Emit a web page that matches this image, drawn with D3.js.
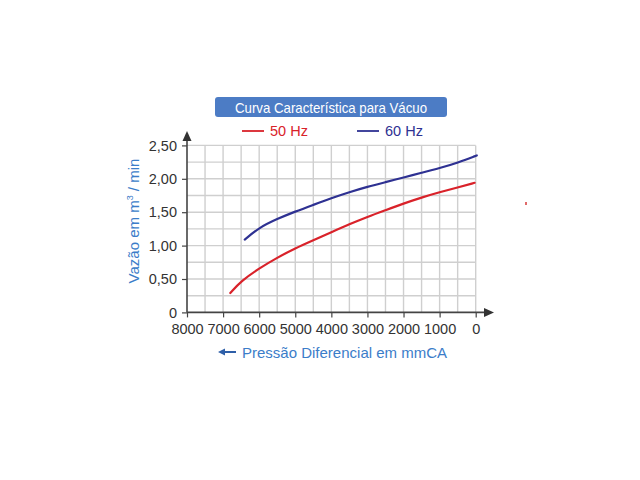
<!DOCTYPE html>
<html>
<head>
<meta charset="utf-8">
<script src="https://cdn.jsdelivr.net/npm/d3@7"></script>
<style>
  body { margin: 0; background: #fff; }
  svg { display: block; font-family: "Liberation Sans", Arial, sans-serif; }
</style>
</head>
<body>
<svg id="chart" width="640" height="480"></svg>
<script>
// Curve data (pressure in mmCA, flow in m3/min)
var pressure50 = [6800, 6500, 6000, 5500, 5000, 4500, 4000, 3500, 3000, 2500, 2000, 1500, 1000, 500, 30];
var flow50 = [0.29, 0.47, 0.66, 0.82, 0.96, 1.08, 1.20, 1.32, 1.43, 1.53, 1.63, 1.72, 1.80, 1.87, 1.94];
var pressure60 = [6400, 6000, 5500, 5000, 4500, 4000, 3500, 3000, 2500, 2000, 1500, 1000, 500, -30];
var flow60 = [1.09, 1.27, 1.40, 1.51, 1.61, 1.71, 1.80, 1.88, 1.95, 2.02, 2.09, 2.16, 2.24, 2.35];

var xTicks = [8000, 7000, 6000, 5000, 4000, 3000, 2000, 1000, 0];
var yTicks = [0, 0.5, 1.0, 1.5, 2.0, 2.5];
var seriesNames = ["50 Hz", "60 Hz"];
var seriesColors = ["#d9222a", "#2e3192"];

var svg = d3.select("#chart");

var x = d3.scaleLinear().domain([8000, 0]).range([187, 475.7]);
var y = d3.scaleLinear().domain([0, 2.5]).range([312.4, 145.4]);

// grid every 500 mmCA and every 0.25 m3/min
var grid = svg.append("g").attr("stroke", "#cfcfcf").attr("stroke-width", 1.4);
d3.range(7500, -1, -500).forEach(function(v) {
  grid.append("line")
    .attr("x1", x(v)).attr("x2", x(v))
    .attr("y1", y(0)).attr("y2", y(2.5));
});
d3.range(0.25, 2.51, 0.25).forEach(function(v) {
  grid.append("line")
    .attr("x1", x(8000)).attr("x2", x(0))
    .attr("y1", y(v)).attr("y2", y(v));
});

// axes
var xAxis = d3.axisBottom(x).tickValues(xTicks).tickSize(5).tickPadding(6)
  .tickFormat(d3.format("d"));
var yAxis = d3.axisLeft(y).tickValues(yTicks).tickSize(5).tickPadding(5)
  .tickFormat(function(d) { return d === 0 ? "0" : d3.format(".2f")(d).replace(".", ","); });

var gx = svg.append("g").attr("transform", "translate(0," + y(0) + ")").call(xAxis);
var gy = svg.append("g").attr("transform", "translate(" + x(8000) + ",0)").call(yAxis);

[gx, gy].forEach(function(g) {
  g.select(".domain").remove();
  g.selectAll(".tick line").attr("stroke", "#444").attr("stroke-width", 1.2);
  g.selectAll(".tick text").attr("fill", "#333").style("font-size", "14.5px");
});

// axis lines with arrow heads
svg.append("line")
  .attr("x1", x(8000)).attr("x2", 486)
  .attr("y1", y(0)).attr("y2", y(0))
  .attr("stroke", "#444").attr("stroke-width", 1.6);
svg.append("path")
  .attr("d", "M" + 494 + "," + y(0) + " L484," + (y(0) - 4.5) + " L484," + (y(0) + 4.5) + "Z")
  .attr("fill", "#333");
svg.append("line")
  .attr("x1", x(8000)).attr("x2", x(8000))
  .attr("y1", y(0)).attr("y2", 139)
  .attr("stroke", "#444").attr("stroke-width", 1.6);
svg.append("path")
  .attr("d", "M" + x(8000) + ",131 L" + (x(8000) - 4.5) + ",141 L" + (x(8000) + 4.5) + ",141Z")
  .attr("fill", "#333");

// curves, smoothed like the drawn characteristic
var line = d3.line()
  .x(function(d) { return x(d[0]); })
  .y(function(d) { return y(d[1]); })
  .curve(d3.curveBasis);

var series = [d3.zip(pressure50, flow50), d3.zip(pressure60, flow60)];
series.forEach(function(pts, i) {
  svg.append("path")
    .datum(pts)
    .attr("d", line)
    .attr("fill", "none")
    .attr("stroke", seriesColors[i])
    .attr("stroke-width", 2.2)
    .attr("stroke-linecap", "round");
});

// title box
svg.append("rect")
  .attr("x", 215).attr("y", 97).attr("width", 232).attr("height", 20)
  .attr("rx", 3).attr("fill", "#4c7cc5");
svg.append("text")
  .attr("x", 331).attr("y", 112.5)
  .attr("text-anchor", "middle")
  .attr("fill", "#fff")
  .attr("textLength", 192)
  .attr("lengthAdjust", "spacingAndGlyphs")
  .style("font-size", "14.5px")
  .text("Curva Característica para Vácuo");

// legend
var legendX = [242, 357];
seriesNames.forEach(function(name, i) {
  svg.append("line")
    .attr("x1", legendX[i]).attr("x2", legendX[i] + 22)
    .attr("y1", 131).attr("y2", 131)
    .attr("stroke", seriesColors[i]).attr("stroke-width", 1.8);
  svg.append("text")
    .attr("x", legendX[i] + 28).attr("y", 136)
    .attr("fill", seriesColors[i])
    .style("font-size", "14.5px")
    .text(name);
});

// axis titles
var yTitle = svg.append("text")
  .attr("transform", "translate(139,221) rotate(-90)")
  .attr("text-anchor", "middle")
  .attr("fill", "#3b7dc9")
  .style("font-size", "15px");
yTitle.append("tspan").text("Vazão em m");
yTitle.append("tspan").attr("dy", -6).style("font-size", "9px").text("3");
yTitle.append("tspan").attr("dy", 6).text(" / min");

svg.append("line")
  .attr("x1", 224).attr("x2", 236)
  .attr("y1", 352).attr("y2", 352)
  .attr("stroke", "#2e5fa8").attr("stroke-width", 2);
svg.append("path")
  .attr("d", "M218,352 L225,348.5 L225,355.5Z")
  .attr("fill", "#2e5fa8");
svg.append("text")
  .attr("x", 242).attr("y", 357.5)
  .attr("fill", "#3b7dc9")
  .style("font-size", "15px")
  .text("Pressão Diferencial em mmCA");

// small red speck at the right edge of the original image
svg.append("rect")
  .attr("x", 525).attr("y", 202).attr("width", 2).attr("height", 3)
  .attr("fill", "#e06a6a");
</script>
</body>
</html>
